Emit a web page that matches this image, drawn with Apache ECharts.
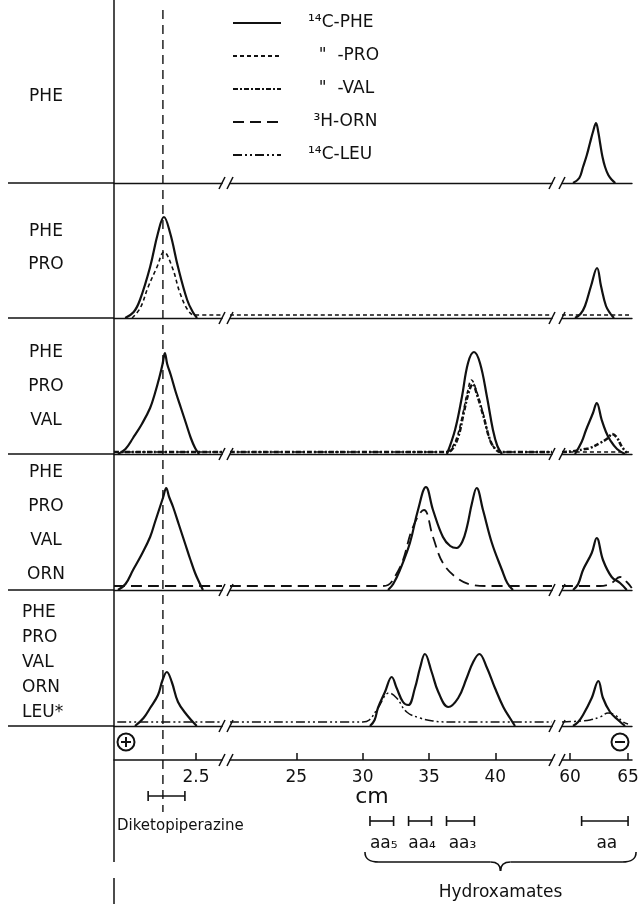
<!DOCTYPE html>
<html>
<head>
<meta charset="utf-8">
<script src="https://cdn.jsdelivr.net/npm/echarts@6.0.0/dist/echarts.min.js"></script>
<style>
  html, body { margin: 0; padding: 0; background: #fff; }
  #main { width: 643px; height: 904px; }
</style>
</head>
<body>
<div id="main"></div>
<script>
// broken x axis: three pieces in cm
var segMin = [0, 20, 59.31];
var segMax = [3.29, 44.27, 65.34];
var segTicks = [[2.5], [25, 30, 35, 40], [60, 65]];

var seriesNames = ['PHE', 'PRO', 'VAL', 'ORN', 'LEU'];
var legendLabels = ['¹⁴C-PHE', '  "  -PRO', '  "  -VAL', ' ³H-ORN', '¹⁴C-LEU'];
var panelLabels = [
  ['PHE'],
  ['PHE', 'PRO'],
  ['PHE', 'PRO', 'VAL'],
  ['PHE', 'PRO', 'VAL', 'ORN'],
  ['PHE', 'PRO', 'VAL', 'ORN', 'LEU*']
];

var dkpMark = 1.49;               // dashed line, cm
var dkpRange = [1.04, 2.16];      // diketopiperazine bracket
var hxRanges = [[30.55, 32.33], [33.46, 35.19], [36.32, 38.42], [61.0, 65.0]];
var hxSegs = [1, 1, 1, 2];
var hxLabels = ['aa₅', 'aa₄', 'aa₃', 'aa'];

// radioactivity traces, [cm, height]
var phe1 = [[60.26,0],[60.8,5],[61.12,16],[61.45,28],[61.72,40],[62.0,52],[62.24,60],[62.45,50],[62.59,40],[62.8,26],[63.02,16],[63.3,8],[63.62,3],[63.9,0]];

var phe2 = [[0.34,0],[0.6,6],[0.79,18],[1.10,51],[1.34,85],[1.52,101],[1.71,85],[1.95,51],[2.23,18],[2.4,6],[2.53,0],
  [60.43,0],[60.9,4],[61.29,12],[61.81,32],[62.33,50],[62.67,32],[63.10,12],[63.5,4],[63.79,0]];
var pro2 = [[0.55,0],[0.8,10],[1.04,31],[1.31,51],[1.52,66],[1.77,51],[2.01,25],[2.25,8],[2.45,3],[3.29,3],
  [20,3],[44.27,3],
  [59.31,3],[65.34,3]];

var phe3 = [[0.12,0],[0.35,5],[0.58,16],[0.85,30],[1.10,46],[1.25,61],[1.40,79],[1.48,90],[1.55,101],[1.62,90],[1.73,79],[1.88,62],[2.04,46],[2.19,31],[2.34,16],[2.47,6],[2.59,0],
  [36.35,0],[36.96,24],[37.48,57],[37.94,91],[38.39,102],[38.84,91],[39.37,57],[39.82,24],[40.15,8],[40.5,0],
  [60.43,0],[61.0,12],[61.38,24],[61.98,41],[62.30,51],[62.73,34],[63.1,22],[63.45,14],[64.05,5],[64.74,0]];
var pro3 = [[0,2],[3.29,2],
  [20,2],[36.2,2],[36.6,4],[37.11,17],[37.56,41],[37.9,62],[38.2,74],[38.6,62],[39.07,41],[39.59,14],[40.0,5],[40.4,2],[44.27,2],
  [59.31,2],[65.34,2]];
var val3 = [[0,2],[3.29,2],
  [20,2],[36.3,2],[36.7,4],[37.2,17],[37.6,40],[38.0,62],[38.3,70],[38.6,60],[39.1,38],[39.6,14],[40.0,5],[40.4,2],[44.27,2],
  [59.31,2],[60.4,3],[61.3,5],[61.72,6],[62.59,11],[63.28,16],[63.62,20],[64.0,17],[64.48,7],[64.9,1]];

var phe4 = [[0.12,0],[0.35,6],[0.58,20],[0.85,36],[1.10,53],[1.25,68],[1.40,83],[1.50,93],[1.59,102],[1.68,93],[1.80,83],[1.98,65],[2.16,47],[2.32,31],[2.47,17],[2.62,6],[2.71,0],
  [31.91,0],[32.3,6],[32.81,20],[33.56,47],[34.17,80],[34.77,103],[35.30,80],[36.05,53],[36.6,44],[37.08,42],[37.5,48],[37.86,63],[38.24,87],[38.59,102],[39.07,80],[39.74,47],[40.50,20],[40.9,7],[41.33,0],
  [60.26,0],[60.7,6],[61.12,20],[61.87,37],[62.30,52],[62.84,30],[63.59,13],[64.31,7],[64.89,0]];
var orn4 = [[0,4],[3.29,4],
  [20,4],[31.4,4],[31.91,5],[32.5,15],[33.04,30],[33.79,63],[34.62,80],[35.30,53],[36.05,27],[37.11,12],[38.31,5],[39.37,4],[44.27,4],
  [59.31,4],[62.59,4],[63.2,5],[63.59,7],[64.31,13],[64.89,8],[65.32,2]];

var phe5 = [[0.64,0],[0.9,8],[1.10,18],[1.34,31],[1.48,46],[1.61,54],[1.76,44],[1.95,24],[2.22,11],[2.52,0],
  [30.55,0],[30.9,6],[31.15,18],[31.68,34],[32.19,49],[32.56,38],[33.04,24],[33.44,21],[33.94,38],[34.32,58],[34.69,72],[35.20,54],[35.70,34],[36.45,19],[37.20,28],[37.84,48],[38.33,64],[38.79,72],[39.34,59],[39.97,38],[40.60,19],[41.10,8],[41.48,0],
  [60.26,0],[60.7,4],[61.12,11],[61.87,28],[62.44,45],[62.84,28],[63.45,14],[64.14,6],[64.74,0]];
var leu5 = [[0.1,4],[3.29,4],
  [20,4],[30.0,4],[30.5,6],[31.15,18],[32.0,33],[32.56,28],[33.32,14],[34.32,8],[35.30,5],[36.5,4],[44.27,4],
  [59.31,4],[60.9,5],[61.72,6],[62.59,9],[63.28,13],[63.88,11],[64.57,4],[65.0,2]];

var curves = [
  [0, 'PHE', phe1],
  [1, 'PHE', phe2], [1, 'PRO', pro2],
  [2, 'PHE', phe3], [2, 'PRO', pro3], [2, 'VAL', val3],
  [3, 'PHE', phe4], [3, 'ORN', orn4],
  [4, 'PHE', phe5], [4, 'LEU', leu5]
];

// layout
var ink = '#111';
var fontFam = '"DejaVu Sans", sans-serif';
var baseY = [183, 318, 454, 590, 726];
var labelY = [[97], [232, 265], [353, 387, 421], [473, 507, 541, 575], [613, 638, 663, 688, 713]];
var segLeft = [114, 230, 562];
var segRight = [222, 552, 632];
var panelH = 130;
var axisY = 760;

var lineStyles = {
  PHE: {width: 2.2, type: 'solid'},
  PRO: {width: 1.6, type: [4, 3]},
  VAL: {width: 2.5, type: [5, 2, 2, 2]},
  ORN: {width: 1.8, type: [11, 6]},
  LEU: {width: 1.5, type: [9, 3, 2, 3, 2, 3]}
};

var grids = [], xAxes = [], yAxes = [], series = [];

// one grid for every panel and every piece of the axis
for (var p = 0; p < 5; p++) {
  for (var s = 0; s < 3; s++) {
    var g = grids.length;
    grids.push({left: segLeft[s], width: segRight[s] - segLeft[s], top: baseY[p] - panelH, height: panelH, outerBoundsMode: 'none'});
    xAxes.push({
      type: 'value', gridIndex: g, min: segMin[s], max: segMax[s],
      axisLine: {show: true, onZero: false, lineStyle: {color: ink, width: 1.4}},
      axisTick: {show: false}, axisLabel: {show: false}, splitLine: {show: false}
    });
    yAxes.push({type: 'value', gridIndex: g, min: 0, max: panelH, show: false});
  }
}
// the cm scale below the panels
for (var s = 0; s < 3; s++) {
  var g = grids.length;
  grids.push({left: segLeft[s], width: segRight[s] - segLeft[s], top: axisY - 60, height: 60, outerBoundsMode: 'none'});
  xAxes.push({
    type: 'value', gridIndex: g, min: segMin[s], max: segMax[s],
    axisLine: {show: true, onZero: false, lineStyle: {color: ink, width: 1.5}},
    axisTick: {show: true, inside: true, length: 7, customValues: segTicks[s], lineStyle: {color: ink, width: 1.5}},
    axisLabel: {show: true, customValues: segTicks[s], color: ink, fontSize: 17, fontFamily: fontFam, margin: 9},
    splitLine: {show: false}
  });
  yAxes.push({type: 'value', gridIndex: g, min: 0, max: 1, show: false});
}

curves.forEach(function (c) {
  for (var s = 0; s < 3; s++) {
    var pts = c[2].filter(function (d) { return d[0] >= segMin[s] - 1e-6 && d[0] <= segMax[s] + 1e-6; });
    if (pts.length < 2) continue;
    var g = c[0] * 3 + s;
    series.push({
      type: 'line', name: c[1], xAxisIndex: g, yAxisIndex: g,
      data: pts, symbol: 'none', smooth: 0.4,
      z: c[1] === 'PHE' ? 4 : 3,
      itemStyle: {color: ink},
      lineStyle: {color: ink, width: lineStyles[c[1]].width, type: lineStyles[c[1]].type}
    });
  }
});

var option = {
  animation: false,
  backgroundColor: '#fff',
  textStyle: {fontFamily: fontFam},
  legend: {
    orient: 'vertical', left: 227, top: 8,
    data: seriesNames, selectedMode: false,
    itemWidth: 48, itemHeight: 14, itemGap: 13,
    itemStyle: {opacity: 0},
    formatter: function (n) { return legendLabels[seriesNames.indexOf(n)]; },
    textStyle: {color: ink, fontSize: 17, lineHeight: 20, fontFamily: fontFam, padding: [0, 0, 0, 22]}
  },
  grid: grids,
  xAxis: xAxes,
  yAxis: yAxes,
  series: series
};

var chart = echarts.init(document.getElementById('main'));
chart.setOption(option);

// annotations placed through the axis scales
function px(seg, v) { return chart.convertToPixel({xAxisIndex: 15 + seg}, v); }
var el = [];
function line(x1, y1, x2, y2, w, dash) {
  el.push({type: 'line', silent: true, shape: {x1: x1, y1: y1, x2: x2, y2: y2},
    style: {stroke: ink, lineWidth: w || 1.4, lineDash: dash || null}});
}
function curve(x1, y1, c1x, c1y, c2x, c2y, x2, y2) {
  el.push({type: 'bezierCurve', silent: true,
    shape: {x1: x1, y1: y1, cpx1: c1x, cpy1: c1y, cpx2: c2x, cpy2: c2y, x2: x2, y2: y2},
    style: {stroke: ink, lineWidth: 1.6, fill: null}});
}
function text(str, x, y, size, align) {
  el.push({type: 'text', silent: true, style: {text: str, x: x, y: y, fill: ink,
    font: size + 'px ' + fontFam, align: align || 'center', verticalAlign: 'middle',
    textAlign: align || 'center', textVerticalAlign: 'middle'}});
}
function bracket(x1, x2, y) {
  line(x1, y, x2, y, 1.6);
  line(x1, y - 5, x1, y + 5, 1.6);
  line(x2, y - 5, x2, y + 5, 1.6);
}
function brk(x, y) { line(x - 3, y + 6, x + 3, y - 6, 1.5); }

// vertical line at the origin
line(114, 0, 114, 862, 1.5);
line(114, 878, 114, 904, 1.5);
// baselines run into the label column, axis breaks
baseY.concat([axisY]).forEach(function (y, i) {
  if (i < baseY.length) line(8, y, 114, y, 1.4);
  brk(segRight[0], y); brk(segLeft[1], y);
  brk(segRight[1], y); brk(segLeft[2], y);
});
// diketopiperazine position
var xd = px(0, dkpMark);
line(xd, 10, xd, 812, 1.4, [9, 6]);

panelLabels.forEach(function (labs, p) {
  labs.forEach(function (t, k) {
    if (labs.length === 5) text(t, 22, labelY[p][k], 17, 'left');
    else text(t, 46, labelY[p][k], 17, 'center');
  });
});

// electrode signs
[[126, '+'], [620, '-']].forEach(function (e) {
  el.push({type: 'circle', silent: true, shape: {cx: e[0], cy: 742, r: 8.5}, style: {stroke: ink, lineWidth: 2, fill: null}});
  line(e[0] - 5, 742, e[0] + 5, 742, 2);
  if (e[1] === '+') line(e[0], 737, e[0], 747, 2);
});

text('cm', 372, 797, 22, 'center');
bracket(px(0, dkpRange[0]), px(0, dkpRange[1]), 796);
text('Diketopiperazine', 117, 826, 15, 'left');
hxRanges.forEach(function (r, i) {
  var a = px(hxSegs[i], r[0]), b = px(hxSegs[i], r[1]);
  bracket(a, b, 821);
  text(hxLabels[i], (a + b) / 2 + 2, 844, 17, 'center');
});
// brace under the hydroxamates
var bx1 = px(1, hxRanges[0][0]) - 5, bx2 = px(2, hxRanges[3][1]) + 8, bm = (bx1 + bx2) / 2;
curve(bx1, 852, bx1, 859, bx1 + 4, 862, bx1 + 14, 862);
line(bx1 + 14, 862, bm - 10, 862, 1.6);
curve(bm - 10, 862, bm - 3, 862, bm, 865, bm, 871);
curve(bm, 871, bm, 865, bm + 3, 862, bm + 10, 862);
line(bm + 10, 862, bx2 - 14, 862, 1.6);
curve(bx2 - 14, 862, bx2 - 4, 862, bx2, 859, bx2, 852);
text('Hydroxamates', bm, 893, 17, 'center');

chart.setOption({graphic: {elements: el}});
</script>
</body>
</html>
